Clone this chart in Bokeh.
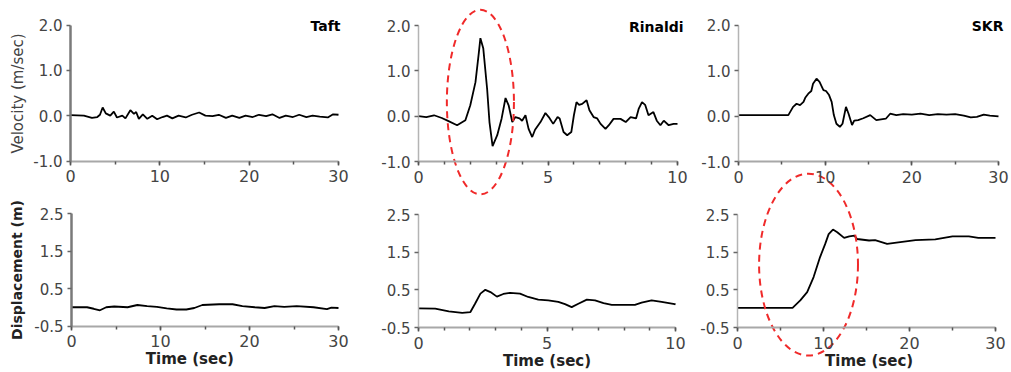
from bokeh.plotting import figure
from bokeh.models import (Range1d, LinearAxis, FixedTicker, SingleIntervalTicker,
                          Label, NumeralTickFormatter)
from bokeh.embed import file_html
from bokeh.resources import INLINE

# ---------------- data ----------------
stations = ["Taft", "Rinaldi", "SKR"]
vel_ticks = [-1.0, 0.0, 1.0, 2.0]
disp_ticks = [-0.5, 0.5, 1.5, 2.5]

taft_vel_t = [0, 1.5, 2.4, 3.0, 3.3, 3.6, 3.95, 4.45, 4.85, 5.2, 5.8, 6.15, 6.7, 7.1, 7.35, 7.65,
              8.1, 8.6, 9.15, 9.7, 10.3, 10.8, 11.4, 12.1, 12.9, 13.6, 14.4, 15.1, 15.9, 16.6,
              17.4, 18.1, 18.9, 19.6, 20.4, 21.1, 21.9, 22.6, 23.4, 24.1, 24.9, 25.6, 26.4,
              27.1, 27.9, 28.8, 29.4, 30]
taft_vel_v = [0.01, 0.0, -0.05, -0.03, 0.02, 0.18, 0.05, 0.0, 0.09, -0.04, 0.0, -0.06, 0.12,
              0.04, 0.08, -0.07, 0.03, -0.07, 0.0, -0.08, -0.03, 0.0, -0.06, 0.0, -0.04, 0.02,
              0.07, 0.0, -0.01, 0.02, -0.05, 0.0, -0.05, 0.0, -0.03, 0.02, -0.01, 0.03, -0.05,
              0.0, -0.03, 0.02, -0.03, 0.0, -0.02, -0.04, 0.03, 0.02]

rinaldi_vel_t = [0, 0.3, 0.6, 0.9, 1.16, 1.49, 1.81, 2.0, 2.2, 2.33, 2.39, 2.5, 2.65, 2.74, 2.86,
                 3.04, 3.21, 3.36, 3.48, 3.62, 3.74, 3.9, 4.0, 4.13, 4.25, 4.39, 4.5, 4.71, 4.9,
                 5.03, 5.2, 5.37, 5.45, 5.6, 5.74, 5.9, 6.0, 6.1, 6.2, 6.32, 6.49, 6.6, 6.76,
                 6.9, 7.03, 7.22, 7.35, 7.53, 7.8, 8.0, 8.19, 8.4, 8.5, 8.63, 8.75, 8.88, 9.07,
                 9.2, 9.34, 9.47, 9.66, 9.85, 10]
rinaldi_vel_v = [0.0, -0.02, 0.02, -0.04, -0.11, -0.2, -0.09, 0.24, 0.75, 1.4, 1.72, 1.5, 0.6,
                 -0.13, -0.66, -0.42, -0.05, 0.4, 0.24, -0.13, -0.02, -0.05, -0.1, 0.02, -0.28,
                 -0.46, -0.3, -0.13, 0.07, -0.02, -0.17, -0.02, -0.05, -0.35, -0.42, -0.35,
                 0.02, 0.31, 0.25, 0.27, 0.35, 0.13, -0.02, -0.05, -0.17, -0.28, -0.2, -0.06,
                 -0.06, -0.13, -0.02, -0.05, 0.16, 0.31, 0.25, 0.02, 0.09, -0.1, -0.2, -0.1,
                 -0.2, -0.17, -0.17]

skr_vel_t = [0, 5.75, 6.3, 6.7, 7.1, 7.5, 7.7, 8.05, 8.4, 8.6, 9.0, 9.35, 9.8, 10.1, 10.45,
             10.75, 11.0, 11.3, 11.7, 12.0, 12.4, 12.7, 13.1, 13.35, 13.8, 14.4, 15.2, 15.9,
             17.0, 17.5, 18.2, 19.0, 20.0, 21.0, 22.0, 23.0, 24.0, 25.0, 26.0, 26.8, 27.5,
             28.3, 29.0, 30]
skr_vel_v = [0.02, 0.02, 0.2, 0.27, 0.24, 0.31, 0.4, 0.49, 0.55, 0.71, 0.82, 0.75, 0.57, 0.55,
             0.46, 0.31, 0.02, -0.17, -0.24, -0.17, 0.2, 0.05, -0.2, -0.1, -0.09, -0.05, 0.02,
             -0.09, -0.06, 0.05, 0.02, 0.04, 0.03, 0.05, 0.02, 0.04, 0.03, 0.04, 0.01, -0.03,
             -0.02, 0.03, 0.01, -0.01]

taft_disp_t = [0, 1.75, 2.5, 3.2, 3.9, 4.8, 6.3, 7.4, 8.5, 9.6, 10.7, 11.8, 12.9, 13.8, 14.7,
               16.6, 18.1, 19.2, 20.6, 21.7, 22.8, 23.9, 25.3, 27.2, 28.7, 29.2, 30]
taft_disp_d = [0.0, 0.0, -0.04, -0.08, 0.0, 0.02, 0.0, 0.06, 0.03, 0.01, -0.03, -0.06, -0.06,
               -0.02, 0.06, 0.08, 0.08, 0.03, 0.0, -0.02, 0.03, 0.01, 0.03, 0.0, -0.05, -0.01,
               -0.02]

rinaldi_disp_t = [0, 0.65, 1.18, 1.7, 2.02, 2.2, 2.41, 2.6, 2.8, 3.05, 3.3, 3.56, 3.95, 4.27,
                  4.66, 5.05, 5.44, 5.7, 5.96, 6.22, 6.55, 6.87, 7.2, 7.52, 7.9, 8.42, 8.68,
                  9.07, 9.46, 9.97, 10]
rinaldi_disp_d = [0.01, 0.0, -0.07, -0.11, -0.09, 0.13, 0.4, 0.5, 0.44, 0.32, 0.39, 0.42, 0.4,
                  0.31, 0.24, 0.22, 0.18, 0.12, 0.04, 0.13, 0.24, 0.22, 0.15, 0.1, 0.1, 0.1,
                  0.16, 0.22, 0.18, 0.12, 0.11]

skr_disp_t = [0, 6.4, 7.3, 8.1, 8.85, 9.6, 10.2, 10.6, 11.1, 11.6, 12.4, 13.0, 13.6, 13.9,
              15.3, 16.0, 17.4, 18.7, 20.7, 23.0, 25.0, 26.9, 28.0, 30]
skr_disp_d = [0.02, 0.02, 0.22, 0.44, 0.84, 1.37, 1.72, 1.98, 2.1, 2.03, 1.88, 1.92, 1.94,
              1.85, 1.81, 1.82, 1.72, 1.76, 1.82, 1.84, 1.92, 1.92, 1.88, 1.88]

# highlight ellipses (data units of their panels): centre x, centre y, width, height
rinaldi_ellipse = [2.39, 0.31, 2.59, 4.07]
skr_ellipse = [8.26, 1.17, 11.5, 4.83]

# ---------------- layout ----------------
W, H = 1011, 372
FONT = "DejaVu Sans"

p = figure(width=W, height=H, output_backend="svg", toolbar_location=None,
           x_range=Range1d(0, W), y_range=Range1d(0, H),
           x_axis_type=None, y_axis_type=None, min_border=0)
p.outline_line_color = None
p.background_fill_color = "white"
p.border_fill_color = "white"

extra_x, extra_y = {}, {}


def make_panel(name, xlim, ylim, xpx, ypx, t, v, x_interval, x_minor, yticks,
               dark_y=False, title=None, title_dx=0, ylabel=None, ylabel_bold=False,
               ylabel_standoff=5):
    x0, x1 = xlim
    y0, y1 = ylim
    p0, p1 = xpx
    q0, q1 = ypx  # canvas pixel (from top) of y0 and y1
    sx = (x1 - x0) / (p1 - p0)
    extra_x[name] = Range1d(x0 - p0 * sx, x1 + (W - p1) * sx)
    sy = (y1 - y0) / (q0 - q1)
    extra_y[name] = Range1d(y0 - (H - q0) * sy, y1 + q1 * sy)

    xa = LinearAxis(x_range_name=name, y_range_name=name, fixed_location=y0, bounds=(x0, x1),
                    ticker=SingleIntervalTicker(interval=x_interval, num_minor_ticks=x_minor),
                    axis_line_color="#a8a8a8", axis_line_width=2,
                    major_tick_out=4, major_tick_in=0, minor_tick_out=3, minor_tick_in=0,
                    major_tick_line_color="#555555", minor_tick_line_color="#555555",
                    major_tick_line_width=1.5, minor_tick_line_width=1.5,
                    major_label_text_font=FONT, major_label_text_font_size="16px",
                    major_label_text_color="#444444", major_label_standoff=5)
    p.add_layout(xa, "below")

    ya = LinearAxis(x_range_name=name, y_range_name=name, fixed_location=x0, bounds=(y0, y1),
                    ticker=FixedTicker(ticks=yticks),
                    formatter=NumeralTickFormatter(format="0.0"),
                    axis_line_color="#7a7a7a" if dark_y else "#b4b4b4",
                    axis_line_width=2.5 if dark_y else 1.5,
                    major_tick_out=4, major_tick_in=0, major_tick_line_color="#666666",
                    major_tick_line_width=1.5,
                    major_label_text_font=FONT, major_label_text_font_size="15px",
                    major_label_text_color="#444444", major_label_standoff=4)
    if ylabel:
        ya.axis_label = ylabel
        ya.axis_label_text_font = FONT
        ya.axis_label_text_font_size = "14px" if ylabel_bold else "15px"
        ya.axis_label_text_font_style = "bold" if ylabel_bold else "normal"
        ya.axis_label_text_color = "#222222" if ylabel_bold else "#444444"
        ya.axis_label_standoff = ylabel_standoff
    p.add_layout(ya, "left")

    p.line(t, v, x_range_name=name, y_range_name=name, line_color="black", line_width=1.8)

    if title:
        p.add_layout(Label(x=x1, y=y1, x_range_name=name, y_range_name=name, text=title,
                           text_align="right", text_baseline="middle", x_offset=title_dx,
                           y_offset=-1,
                           text_font=FONT, text_font_style="bold", text_font_size="14px",
                           text_color="black"))


make_panel("taft_v", (0, 30), (-1, 2), (70, 338), (160.5, 24.5), taft_vel_t, taft_vel_v,
           10, 2, vel_ticks, dark_y=True, title=stations[0], title_dx=2,
           ylabel="Velocity (m/sec)", ylabel_standoff=3)
make_panel("rin_v", (0, 10), (-1, 2), (418, 677), (161, 25), rinaldi_vel_t, rinaldi_vel_v,
           5, 5, vel_ticks, title=stations[1], title_dx=6)
make_panel("skr_v", (0, 30), (-1, 2), (738, 998), (161, 24.5), skr_vel_t, skr_vel_v,
           10, 2, vel_ticks, title=stations[2], title_dx=5)
make_panel("taft_d", (0, 30), (-0.5, 2.5), (71, 338), (325.5, 213), taft_disp_t, taft_disp_d,
           10, 2, disp_ticks, dark_y=True, ylabel="Displacement (m)", ylabel_bold=True,
           ylabel_standoff=6)
make_panel("rin_d", (0, 10), (-0.5, 2.5), (418, 675), (327, 214), rinaldi_disp_t,
           rinaldi_disp_d, 5, 5, disp_ticks)
make_panel("skr_d", (0, 30), (-0.5, 2.5), (737, 995), (327, 214), skr_disp_t, skr_disp_d,
           10, 2, disp_ticks)

p.extra_x_ranges = extra_x
p.extra_y_ranges = extra_y

# x-axis titles of the bottom row
for name, xc in [("taft_d", 13.3), ("rin_d", 5.0), ("skr_d", 15.3)]:
    p.add_layout(Label(x=xc, y=-0.5, x_range_name=name, y_range_name=name, text="Time (sec)",
                       text_align="center", text_baseline="alphabetic", y_offset=-33,
                       text_font=FONT, text_font_style="bold", text_font_size="15px",
                       text_color="#222222"))

# red dashed highlight ellipses
p.ellipse(x=[rinaldi_ellipse[0]], y=[rinaldi_ellipse[1]], width=[rinaldi_ellipse[2]],
          height=[rinaldi_ellipse[3]], x_range_name="rin_v", y_range_name="rin_v",
          fill_color=None, line_color="#f02a2a", line_width=2, line_dash="7 5")
p.ellipse(x=[skr_ellipse[0]], y=[skr_ellipse[1]], width=[skr_ellipse[2]],
          height=[skr_ellipse[3]], x_range_name="skr_d", y_range_name="skr_d",
          fill_color=None, line_color="#f02a2a", line_width=2, line_dash="7 5")

open("out.html", "w").write(file_html(p, INLINE))
